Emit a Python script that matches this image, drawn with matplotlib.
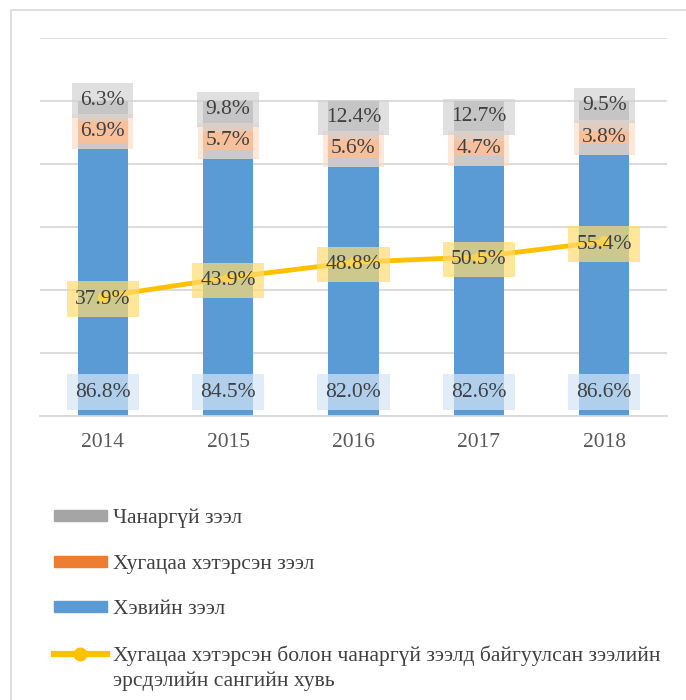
import numpy as np
import matplotlib
matplotlib.use("Agg")
import matplotlib.pyplot as plt
from matplotlib.patches import Rectangle
from matplotlib.lines import Line2D
from matplotlib.text import Annotation

#----- DATA ---------------------------------------------------------
years = ["2014", "2015", "2016", "2017", "2018"]
normal = [86.8, 84.5, 82.0, 82.6, 86.6]        # Хэвийн зээл
overdue = [6.9, 5.7, 5.6, 4.7, 3.8]            # Хугацаа хэтэрсэн зээл
nonperf = [6.3, 9.8, 12.4, 12.7, 9.5]          # Чанаргүй зээл
provision = [37.9, 43.9, 48.8, 50.5, 55.4]     # эрсдэлийн сангийн хувь

lbl_nonperf = "Чанаргүй зээл"
lbl_overdue = "Хугацаа хэтэрсэн зээл"
lbl_normal = "Хэвийн зээл"
lbl_prov_1 = "Хугацаа хэтэрсэн болон чанаргүй зээлд байгуулсан зээлийн"
lbl_prov_2 = "эрсдэлийн сангийн хувь"

#----- STYLE --------------------------------------------------------
c_blue = "#5B9BD5"
c_orange = "#ED7D31"
c_gray = "#A5A5A5"
c_yellow = "#FFC000"
c_text = "#404040"
c_grid = "#D9D9D9"
fs = 15.5

plt.rcParams['font.family'] = ['Liberation Serif', 'DejaVu Serif']
plt.rcParams['font.size'] = fs

fig = plt.figure(figsize=(6.86, 7.0), dpi=100)
ax = fig.add_axes([40 / 686, 1 - 416 / 700, 627 / 686, 378 / 700])

# outer chart border
fig.add_artist(Rectangle((11 / 686, -0.05), 1.1, 1.05 - 9.5 / 700,
                         transform=fig.transFigure, fill=False,
                         edgecolor=c_grid, linewidth=1.2))

x = np.arange(len(years))
normal = np.array(normal)
overdue = np.array(overdue)
nonperf = np.array(nonperf)
w = 0.4

ax.bar(x, normal, w, color=c_blue, zorder=2)
ax.bar(x, overdue, w, bottom=normal, color=c_orange, zorder=2)
ax.bar(x, nonperf, w, bottom=normal + overdue, color=c_gray, zorder=2)
ax.plot(x, provision, color=c_yellow, lw=3.5, marker='o', ms=7,
        solid_capstyle='round', zorder=3)

def box(fc):
    return dict(boxstyle='square,pad=0.38', fc=fc, ec='none', alpha=0.7)

for i in range(len(x)):
    ax.text(x[i], 7.6, f"{normal[i]:.1f}%", ha='center', va='center',
            color=c_text, bbox=box("#D3E6F7"), zorder=5)
    oc = normal[i] + overdue[i] / 2
    ax.text(x[i], oc, f"{overdue[i]:.1f}%", ha='center', va='center',
            color=c_text, bbox=box("#FDDDC8"), zorder=5)
    gc = max(normal[i] + overdue[i] + nonperf[i] / 2, oc + 10)
    ax.text(x[i], gc, f"{nonperf[i]:.1f}%", ha='center', va='center',
            color=c_text, bbox=box("#D3D3D3"), zorder=5)
    ax.text(x[i], provision[i] - 0.8, f"{provision[i]:.1f}%", ha='center',
            va='center', color=c_text, bbox=box("#FFDC6F"), zorder=5)

ax.set_xlim(-0.5, len(x) - 0.5)
ax.set_ylim(0, 120)
ax.set_yticks(np.arange(0, 121, 20))
ax.set_yticklabels([])
ax.yaxis.grid(True, color=c_grid, lw=1.3, zorder=0)
ax.set_xticks(x)
ax.set_xticklabels(years, color="#595959")
ax.tick_params(length=0, pad=12)
for s in ['top', 'right', 'left']:
    ax.spines[s].set_visible(False)
ax.spines['bottom'].set_color(c_grid)
ax.spines['bottom'].set_linewidth(1.3)

#----- LEGEND -------------------------------------------------------
handles = [Rectangle((0, 0), 1, 1, color=c_gray),
           Rectangle((0, 0), 1, 1, color=c_orange),
           Rectangle((0, 0), 1, 1, color=c_blue),
           Line2D([], [], color=c_yellow, lw=4.5, marker='o', ms=9)]
leg = fig.legend(handles, [lbl_nonperf, lbl_overdue, lbl_normal, lbl_prov_1],
                 loc='upper left', bbox_to_anchor=(54 / 686, 1 - 509 / 700),
                 frameon=False, handlelength=2.45, handleheight=0.4,
                 handletextpad=0.28, labelspacing=1.22, borderaxespad=0,
                 borderpad=0)
for t in leg.get_texts():
    t.set_color(c_text)

# second line of the last legend label, hung under the first line
fig.add_artist(Annotation(lbl_prov_2, xy=(0, 0), xycoords=leg.get_texts()[-1],
                          xytext=(0, -4), textcoords='offset points',
                          va='top', ha='left', color=c_text, fontsize=fs,
                          zorder=10))

fig.savefig("out.png", dpi=100)
